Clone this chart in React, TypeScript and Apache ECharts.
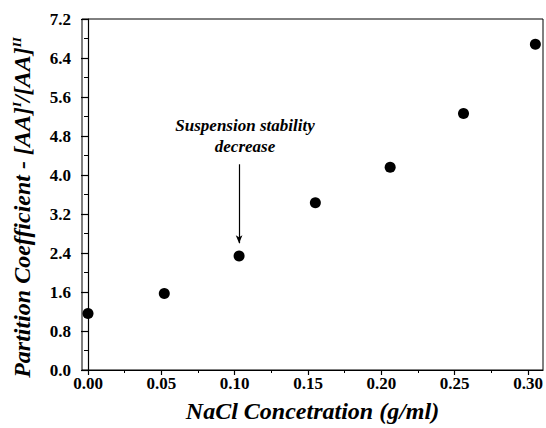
import React, { useEffect, useRef } from "react";
import * as echarts from "echarts";

const nacl = [0.0, 0.052, 0.103, 0.155, 0.206, 0.256, 0.305];
const partition = [1.16, 1.57, 2.34, 3.43, 4.16, 5.26, 6.68];
const xMajorTicks = [0.0, 0.05, 0.1, 0.15, 0.2, 0.25, 0.3];
const xMinorTicks = [0.025, 0.075, 0.125, 0.175, 0.225, 0.275];
const annotationLines = ["Suspension stability", "decrease"];
const arrowFrom = [0.103, 4.22];
const arrowTo = [0.103, 2.6];

const FONT = "'Liberation Serif', 'Times New Roman', serif";

export default function App() {
  const ref = useRef<HTMLDivElement>(null);
  useEffect(() => {
    if (!ref.current) return;
    const chart = echarts.init(ref.current, null, { renderer: "svg" });
    const data = nacl.map((x, i) => [x, partition[i]]);
    chart.setOption({
      animation: false,
      backgroundColor: "#fff",
      grid: {
        left: 82,
        right: 3,
        top: 19,
        bottom: 56,
        show: true,
        borderColor: "#000",
        borderWidth: 1,
        backgroundColor: "transparent",
      },
      xAxis: [
        {
          type: "value",
          min: -0.0041,
          max: 0.3102,
          name: "NaCl Concetration (g/ml)",
          nameLocation: "middle",
          nameGap: 29,
          nameTextStyle: { fontFamily: FONT, fontSize: 24, fontWeight: "bold", fontStyle: "italic", color: "#000" },
          axisLine: { show: true, lineStyle: { color: "#000", width: 1.2 } },
          axisTick: { show: true, customValues: xMajorTicks, length: 5, inside: false, lineStyle: { color: "#000", width: 1.2 } },
          axisLabel: {
            customValues: xMajorTicks,
            formatter: (v: number) => v.toFixed(2),
            fontFamily: FONT,
            fontSize: 17,
            fontWeight: "bold",
            color: "#000",
            margin: 5,
          },
          splitLine: { show: false },
        },
        {
          type: "value",
          position: "bottom",
          min: -0.0041,
          max: 0.3102,
          axisLine: { show: false },
          axisTick: { show: true, customValues: xMinorTicks, length: 3, lineStyle: { color: "#000", width: 1 } },
          axisLabel: { show: false },
          splitLine: { show: false },
        },
      ],
      yAxis: {
        type: "value",
        min: 0,
        max: 7.2,
        interval: 0.8,
        name: "Partition Coefficient - [AA]{sup|I}/[AA]{sup|II}",
        nameLocation: "middle",
        nameGap: 48,
        nameTextStyle: {
          fontFamily: FONT,
          fontSize: 24,
          fontWeight: "bold",
          fontStyle: "italic",
          color: "#000",
          padding: [0, 26, 0, 0],
          rich: {
            sup: { fontFamily: FONT, fontSize: 13, fontWeight: "bold", fontStyle: "italic", color: "#000", verticalAlign: "top", padding: [0, 0, 11, 0] },
          },
        },
        axisLine: { show: true, lineStyle: { color: "#000", width: 1.2 } },
        axisTick: { show: true, length: 7, lineStyle: { color: "#000", width: 1.2 } },
        minorTick: { show: true, splitNumber: 2, length: 4, lineStyle: { color: "#000", width: 1 } },
        axisLabel: {
          formatter: (v: number) => v.toFixed(1),
          fontFamily: FONT,
          fontSize: 17,
          fontWeight: "bold",
          color: "#000",
          margin: 11,
        },
        splitLine: { show: false },
      },
      series: [
        {
          type: "scatter",
          data,
          symbol: "circle",
          symbolSize: 11,
          itemStyle: { color: "#000", opacity: 1 },
          markLine: {
            silent: true,
            symbol: ["none", "arrow"],
            symbolSize: [5, 8],
            label: { show: false },
            lineStyle: { color: "#000", width: 1.2, type: "solid", opacity: 1 },
            data: [[{ coord: arrowFrom }, { coord: arrowTo }]],
          },
        },
      ],
      graphic: [
        {
          type: "text",
          x: 245,
          y: 115,
          style: {
            text: annotationLines.join("\n"),
            textAlign: "center",
            textVerticalAlign: "top",
            fontFamily: FONT,
            fontSize: 17,
            fontWeight: "bold",
            fontStyle: "italic",
            lineHeight: 21,
            fill: "#000",
          },
        },
      ],
    });
    return () => chart.dispose();
  }, []);
  return (
    <div style={{ position: "fixed", left: 0, top: 0, width: 546, height: 428, background: "#fff" }}>
      <div ref={ref} style={{ width: 546, height: 428 }} />
    </div>
  );
}
